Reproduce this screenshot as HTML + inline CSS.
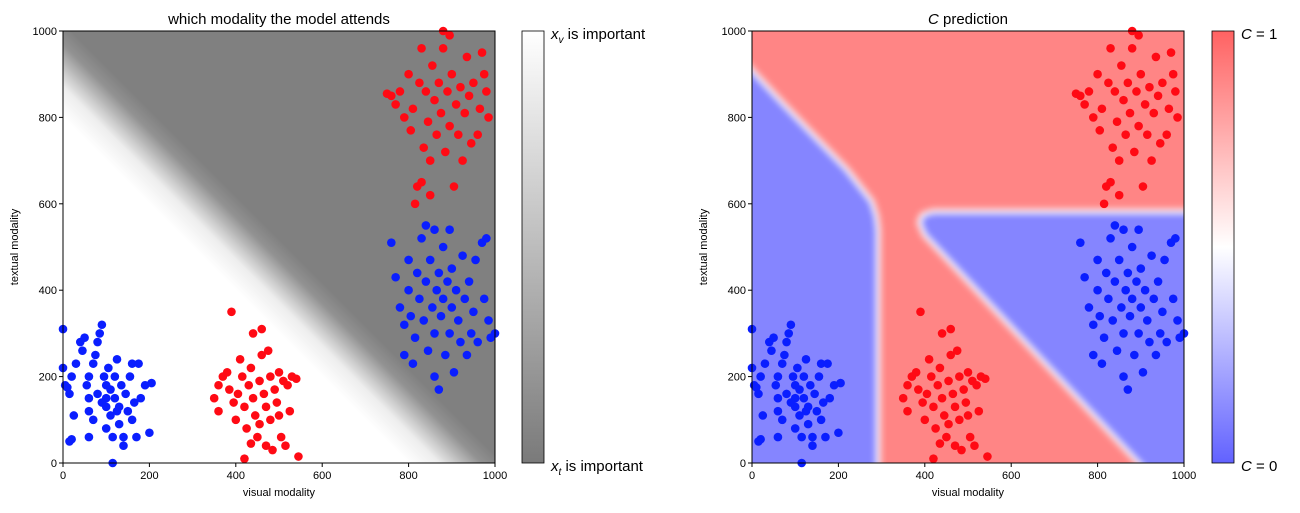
<!DOCTYPE html>
<html><head><meta charset="utf-8">
<style>
body{margin:0;background:#fff;width:1300px;height:508px;overflow:hidden;font-family:"Liberation Sans",sans-serif}
svg text{font-family:"Liberation Sans",sans-serif}
</style></head>
<body>
<svg id="fig" width="1300" height="508" viewBox="0 0 1300 508" xmlns="http://www.w3.org/2000/svg">
<defs>
<linearGradient id="lgrad" gradientUnits="userSpaceOnUse" x1="63" y1="463" x2="495" y2="31">
<stop offset="0" stop-color="#ffffff"/><stop offset="0.40" stop-color="#ffffff"/>
<stop offset="0.435" stop-color="#eeeeee"/><stop offset="0.46" stop-color="#c0c0c0"/>
<stop offset="0.485" stop-color="#929292"/><stop offset="0.51" stop-color="#808080"/><stop offset="1" stop-color="#808080"/>
</linearGradient>
<linearGradient id="cbl" x1="0" y1="0" x2="0" y2="1"><stop offset="0" stop-color="#ffffff"/><stop offset="1" stop-color="#7a7a7a"/></linearGradient>
<linearGradient id="cbr" x1="0" y1="0" x2="0" y2="1"><stop offset="0" stop-color="#ff6262"/><stop offset="0.5" stop-color="#ffffff"/><stop offset="1" stop-color="#6262ff"/></linearGradient>
<filter id="blur" x="-10%" y="-10%" width="120%" height="120%"><feGaussianBlur stdDeviation="3.5"/></filter>
<clipPath id="clipR"><rect x="752" y="31" width="432" height="432"/></clipPath>
</defs>
<g id="left"></g>
<g id="right"></g>
</svg>
<script>
const ticks=[0,200,400,600,800,1000];
const blueA=[[0,310],[0,220],[5,180],[10,175],[20,200],[15,160],[25,110],[20,55],[15,50],[40,280],[45,260],[50,290],[55,180],[60,200],[60,150],[60,120],[70,100],[70,230],[75,250],[80,280],[85,300],[90,320],[95,200],[100,180],[100,150],[100,130],[100,80],[105,220],[110,170],[110,110],[115,60],[115,0],[120,200],[120,150],[125,240],[130,90],[130,130],[135,180],[140,60],[140,40],[145,160],[150,120],[155,200],[160,230],[160,100],[165,140],[170,60],[175,230],[180,150],[190,180],[200,70],[205,185],[80,160],[90,140],[125,120],[60,60],[30,230]];
const redA=[[350,150],[360,180],[360,120],[370,200],[380,210],[385,170],[390,350],[395,140],[400,100],[405,160],[410,240],[415,200],[420,130],[420,10],[425,80],[430,180],[435,220],[440,150],[440,300],[445,110],[450,60],[455,190],[460,250],[460,310],[465,160],[470,130],[470,40],[475,260],[480,100],[480,200],[485,30],[490,170],[495,140],[500,210],[505,60],[510,190],[515,40],[520,180],[525,120],[530,200],[540,195],[545,15],[455,90],[435,45],[500,110]];
const blueB=[[760,510],[770,430],[780,360],[790,320],[790,250],[800,470],[800,400],[805,340],[810,230],[815,290],[820,440],[825,380],[830,520],[835,330],[840,550],[840,420],[845,260],[850,470],[855,360],[860,200],[860,300],[865,400],[870,440],[870,170],[875,340],[880,500],[880,380],[885,250],[890,420],[895,300],[900,450],[900,360],[905,210],[910,400],[915,330],[920,280],[925,480],[930,380],[935,250],[940,420],[945,300],[950,350],[955,470],[960,280],[970,510],[975,380],[980,520],[985,330],[990,290],[1000,300],[860,540],[895,540]];
const redB=[[750,855],[760,850],[770,830],[780,860],[790,800],[800,900],[805,770],[810,820],[815,600],[820,640],[825,880],[830,960],[835,730],[840,860],[845,790],[850,700],[855,920],[860,840],[865,760],[870,880],[875,810],[880,1000],[880,960],[885,720],[890,860],[895,780],[900,900],[905,640],[910,830],[915,760],[920,870],[925,700],[930,810],[935,940],[940,850],[945,740],[950,880],[960,760],[965,820],[970,950],[975,900],[980,860],[985,800],[830,650],[850,620],[895,990]];
const blueLeftRegion=[[-20,-20],[293,-20],[293,540],[289,572],[278,606],[220,680],[150,752],[70,835],[0,910],[-20,932]];
const blueRightRegion=[[912,-20],[1020,-20],[1020,583],[418,583],[394,575],[386,557],[398,528]];
const NS='http://www.w3.org/2000/svg';
function el(p,t,a,txt){const e=document.createElementNS(NS,t);for(const k in a)e.setAttribute(k,a[k]);if(txt!==undefined)e.textContent=txt;p.appendChild(e);return e;}
function drawPts(g,X,Y){
  const sets=[[blueA,'#0a1eff','blue'],[redA,'#ff0a14','red'],[blueB,'#0a1eff','blue'],[redB,'#ff0a14','red']];
  sets.forEach(([arr,c,n])=>arr.forEach(p=>{
    const d=el(g,'circle',{cx:X(p[0]),cy:Y(p[1]),r:4.3,fill:c});
    
    
  }));
}
function frame(g,x0,X,Y){
  el(g,'rect',{x:x0,y:31,width:432,height:432,fill:'none',stroke:'#000','stroke-width':1});
  ticks.forEach(t=>{
    el(g,'line',{x1:X(t),x2:X(t),y1:463,y2:467,stroke:'#000'});
    const a=el(g,'text',{x:X(t),y:479,'font-size':11,'text-anchor':'middle'},t);
    
    el(g,'line',{x1:x0-4,x2:x0,y1:Y(t),y2:Y(t),stroke:'#000'});
    const b=el(g,'text',{x:x0-6,y:Y(t)+4,'font-size':11,'text-anchor':'end'},t);
    
  });
  const xl=el(g,'text',{x:x0+216,y:496,'font-size':11,'text-anchor':'middle'},'visual modality');
  
  const yl=el(g,'text',{x:0,y:0,'font-size':11,'text-anchor':'middle',transform:`translate(${x0-45},247) rotate(-90)`},'textual modality');
  
}
const L=document.getElementById('left');
{const x0=63,X=v=>x0+v*0.432,Y=v=>463-v*0.432;
 el(L,'rect',{x:x0,y:31,width:432,height:432,fill:'url(#lgrad)'});
 drawPts(L,X,Y);frame(L,x0,X,Y);
 const t=el(L,'text',{x:279,y:24,'font-size':15,'text-anchor':'middle'},'which modality the model attends');
 
 el(L,'rect',{x:522,y:31,width:22,height:432,fill:'url(#cbl)',stroke:'#000','stroke-width':0.8});
 const a=el(L,'text',{x:551,y:39,'font-size':15});a.innerHTML='<tspan font-style="italic">x</tspan><tspan font-size="10" dy="4" font-style="italic">v</tspan><tspan dy="-4"> is important</tspan>';
 
 const b=el(L,'text',{x:551,y:471,'font-size':15});b.innerHTML='<tspan font-style="italic">x</tspan><tspan font-size="10" dy="4" font-style="italic">t</tspan><tspan dy="-4"> is important</tspan>';
 
}
const R=document.getElementById('right');
{const x0=752,X=v=>x0+v*0.432,Y=v=>463-v*0.432;
 const cg=el(R,'g',{'clip-path':'url(#clipR)'});
 el(cg,'rect',{x:x0-10,y:21,width:452,height:452,fill:'#ff8585'});
 const bg=el(cg,'g',{filter:'url(#blur)'});
 const pts=a=>a.map(p=>X(p[0])+','+Y(p[1])).join(' ');
 [blueLeftRegion,blueRightRegion].forEach(r=>{
   el(bg,'polygon',{points:pts(r),fill:'#8585ff',stroke:'#ffffff','stroke-width':4,'stroke-linejoin':'round'});
 });
 drawPts(R,X,Y);frame(R,x0,X,Y);
 const t=el(R,'text',{x:968,y:24,'font-size':15,'text-anchor':'middle'});t.innerHTML='<tspan font-style="italic">C</tspan> prediction';
 
 el(R,'rect',{x:1212,y:31,width:22,height:432,fill:'url(#cbr)',stroke:'#000','stroke-width':0.8});
 const a=el(R,'text',{x:1241,y:39,'font-size':15});a.innerHTML='<tspan font-style="italic">C</tspan> = 1';
 
 const b=el(R,'text',{x:1241,y:471,'font-size':15});b.innerHTML='<tspan font-style="italic">C</tspan> = 0';
 
}
</script>
</body></html>
